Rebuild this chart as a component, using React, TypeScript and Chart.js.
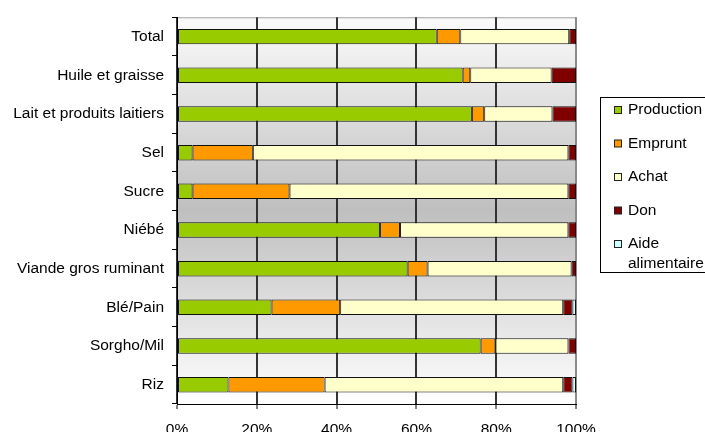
import { useEffect, useRef } from "react";
import { Chart, registerables } from "chart.js";

Chart.register(...registerables);

const categories = [
  "Total",
  "Huile et graisse",
  "Lait et produits laitiers",
  "Sel",
  "Sucre",
  "Niébé",
  "Viande gros ruminant",
  "Blé/Pain",
  "Sorgho/Mil",
  "Riz",
];
const production = [65.1, 71.6, 73.9, 3.9, 3.9, 50.9, 57.8, 23.7, 76.1, 12.9];
const emprunt = [5.9, 1.9, 3.1, 15.1, 24.3, 5.0, 5.0, 17.2, 3.7, 24.1];
const achat = [27.3, 20.4, 17.1, 79.1, 69.9, 42.2, 36.1, 55.9, 18.3, 59.8];
const don = [1.7, 6.1, 5.9, 1.9, 1.9, 1.9, 1.1, 2.3, 1.9, 2.3];
const aideAlimentaire = [0, 0, 0, 0, 0, 0, 0, 0.9, 0, 0.9];
const seriesNames = ["Production", "Emprunt", "Achat", "Don", "Aide alimentaire"];
const seriesColors = ["#99CC00", "#FF9900", "#FFFFCC", "#800000", "#CCFFFF"];
const xTickValues = [0, 20, 40, 60, 80, 100];

const FONT = "'Liberation Sans', Arial, sans-serif";
const FONT_SIZE = 15.5;

const backgroundPlugin = {
  id: "plotBackground",
  beforeDraw(chart: any) {
    const { ctx, chartArea } = chart;
    const { left, top, right, bottom } = chartArea;
    const g = ctx.createLinearGradient(0, top, 0, bottom);
    g.addColorStop(0, "#fbfbfb");
    g.addColorStop(0.5, "#bfbfbf");
    g.addColorStop(1, "#ffffff");
    ctx.save();
    ctx.fillStyle = g;
    ctx.fillRect(left, top, right - left, bottom - top);
    ctx.strokeStyle = "#a0a0a0";
    ctx.lineWidth = 1;
    ctx.beginPath();
    ctx.moveTo(left, top + 0.5);
    ctx.lineTo(right, top + 0.5);
    ctx.stroke();
    ctx.restore();
  },
};

const legendPlugin = {
  id: "boxLegend",
  afterDraw(chart: any) {
    const { ctx } = chart;
    const boxX = 600.5;
    const boxY = 97.5;
    const boxW = 110;
    const boxH = 175;
    ctx.save();
    ctx.fillStyle = "#ffffff";
    ctx.fillRect(boxX, boxY, boxW, boxH);
    ctx.strokeStyle = "#000";
    ctx.lineWidth = 1;
    ctx.strokeRect(boxX, boxY, boxW, boxH);
    ctx.font = `${FONT_SIZE}px ${FONT}`;
    ctx.textBaseline = "middle";
    ctx.textAlign = "left";
    const textX = 628;
    const maxW = 705 - textX;
    let y = 110;
    chart.data.datasets.forEach((ds: any) => {
      const words = String(ds.label).split(" ");
      const lines: string[] = [];
      let cur = "";
      words.forEach((w) => {
        const test = cur ? cur + " " + w : w;
        if (cur && ctx.measureText(test).width > maxW) {
          lines.push(cur);
          cur = w;
        } else cur = test;
      });
      if (cur) lines.push(cur);
      ctx.fillStyle = ds.backgroundColor;
      ctx.fillRect(614.5, y - 3.5, 7, 7);
      ctx.strokeStyle = "#222";
      ctx.strokeRect(614.5, y - 3.5, 7, 7);
      ctx.fillStyle = "#000";
      lines.forEach((ln, i) => ctx.fillText(ln, textX, y + i * 20));
      y += 33.5;
    });
    ctx.restore();
  },
};

export default function App() {
  const ref = useRef<HTMLCanvasElement | null>(null);
  useEffect(() => {
    if (!ref.current) return;
    const seriesData = [production, emprunt, achat, don, aideAlimentaire];
    const chart = new Chart(ref.current, {
      type: "bar",
      data: {
        labels: categories,
        datasets: seriesNames.map((name, i) => ({
          label: name,
          data: seriesData[i],
          backgroundColor: seriesColors[i],
          borderColor: "#111",
          borderWidth: 1,
          borderSkipped: false,
          barPercentage: 0.4,
          categoryPercentage: 1,
        })),
      },
      options: {
        indexAxis: "y",
        responsive: false,
        animation: false,
        events: [],
        layout: { padding: { top: 13, right: 129, left: 0, bottom: 0 } },
        plugins: {
          legend: { display: false },
          tooltip: { enabled: false },
        },
        scales: {
          x: {
            stacked: true,
            min: 0,
            max: 100,
            afterBuildTicks: (scale: any) => {
              scale.ticks = xTickValues.map((v) => ({ value: v }));
            },
            afterFit: (scale: any) => {
              scale.height = 28;
            },
            ticks: {
              color: "#000",
              font: { family: FONT, size: FONT_SIZE },
              padding: 11,
              maxRotation: 0,
              callback: (v: any) => v + "%",
            },
            grid: {
              color: (c: any) => (c.tick && c.tick.value === 100 ? "#8a8a8a" : "#333"),
              lineWidth: 2,
              tickLength: 5,
              tickColor: "#000",
              tickWidth: 1,
            },
            border: { color: "#000", width: 1 },
          },
          y: {
            stacked: true,
            afterFit: (scale: any) => {
              scale.width = 177;
            },
            ticks: {
              color: "#000",
              font: { family: FONT, size: FONT_SIZE },
              padding: 8,
            },
            grid: {
              drawOnChartArea: false,
              offset: true,
              tickLength: 5,
              color: "#000",
            },
            border: { color: "#000", width: 1 },
          },
        },
      },
      plugins: [backgroundPlugin, legendPlugin],
    } as any);
    return () => chart.destroy();
  }, []);
  return (
    <div style={{ position: "absolute", left: 0, top: 0, width: 705, height: 432, overflow: "hidden" }}>
      <canvas ref={ref} width={705} height={432} />
    </div>
  );
}
